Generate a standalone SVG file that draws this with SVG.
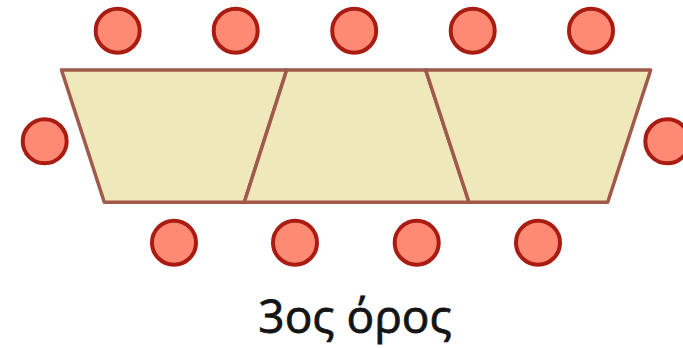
<svg xmlns="http://www.w3.org/2000/svg" width="683" height="348" viewBox="0 0 683 348">
<style>
.seg{fill:#EFE8BB;stroke:#A0594A;stroke-width:3.5;stroke-linejoin:round}
.seat{fill:#FF8A74;stroke:#AA1C12;stroke-width:4}
.lbl{font-family:"Open Sans","Noto Sans",sans-serif;font-size:46px;fill:#141414;stroke:#141414;stroke-width:0.8;text-anchor:middle}
</style>
<rect width="683" height="348" fill="#ffffff"/>
<g id="tables">
<polygon id="t1" class="seg" points="61.5,70 286.7,70 244.3,202.3 104.3,202.3"/>
<polygon id="t2" class="seg" points="286.7,70 425.7,70 469,202.3 244.3,202.3"/>
<polygon id="t3" class="seg" points="425.7,70 650.7,70 607.7,202.3 469,202.3"/>
</g>
<g id="seats">
<circle id="s1" class="seat" cx="117.7" cy="30.7" r="22"/>
<circle id="s2" class="seat" cx="235.7" cy="30.7" r="22"/>
<circle id="s3" class="seat" cx="354.2" cy="30.7" r="22"/>
<circle id="s4" class="seat" cx="472.7" cy="30.7" r="22"/>
<circle id="s5" class="seat" cx="591" cy="30.7" r="22"/>
<circle id="s6" class="seat" cx="44.7" cy="141.3" r="22"/>
<circle id="s7" class="seat" cx="667.3" cy="141.3" r="22"/>
<circle id="s8" class="seat" cx="174" cy="242.7" r="22"/>
<circle id="s9" class="seat" cx="295" cy="242.7" r="22"/>
<circle id="s10" class="seat" cx="416.7" cy="242.7" r="22"/>
<circle id="s11" class="seat" cx="538" cy="242.7" r="22"/>
</g>
<text class="lbl" x="355" y="333">3ος όρος</text>
</svg>
